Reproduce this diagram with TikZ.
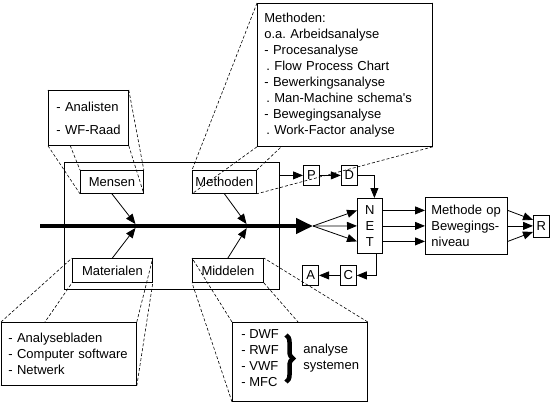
\documentclass[tikz,border=0pt]{standalone}
\usepackage{fontspec}
\setmainfont{Liberation Sans}
\frenchspacing
\usetikzlibrary{positioning,arrows.meta,decorations.pathreplacing,backgrounds}

\begin{document}
\begin{tikzpicture}[
    x=1pt, y=-1pt,
    every node/.style={font=\fontsize{13}{16}\selectfont, inner sep=0pt, line width=.8pt},
    item/.style={draw, anchor=north west},
    note/.style={item, fill=white, align=left, inner xsep=7pt},
    letter/.style={item, minimum width=16pt, minimum height=20pt},
    callout/.style={dash pattern=on 3pt off 2pt, line width=.6pt},
    flow/.style={-{Triangle[length=10pt,width=8pt]}, line width=.8pt},
    spine/.style={-{Triangle[length=17pt,width=15pt]}, line width=4pt},
    brace/.style={decorate, decoration={brace, amplitude=7pt}, line width=4.5pt},
    ]
  \useasboundingbox (0,0) rectangle (560,405);
  % visgraat
  \node [item, minimum width=215pt, minimum height=127pt] (frame) at (64,162) {};
  \node [item, minimum width=63pt, minimum height=23pt] (mensen) at (80,170) {Mensen};
  \node [item, minimum width=64pt, minimum height=23pt] (methoden) at (192,170) {Methoden};
  \node [item, minimum width=80pt, minimum height=24pt] (materialen) at (72,258) {Materialen};
  \node [item, minimum width=71pt, minimum height=24pt] (middelen) at (192,258) {Middelen};
  \coordinate (tail) at (40,226);
  \coordinate (head) at (313,226);
  \coordinate (bone1) at (137,226);
  \coordinate (bone2) at (248,226);

  % toelichtingen
  \node [note, inner xsep=8pt, text width=64pt, minimum height=55pt] (wie) at (48,90) {\mbox{- Analisten}\\[7pt]\mbox{- WF-Raad}};
  \node [note, text width=161pt, minimum height=143pt] (hoe) at (257,3) {Methoden:\\o.a. Arbeidsanalyse\\- Procesanalyse\\\hspace*{2pt}. Flow Process Chart\\- Bewerkingsanalyse\\\hspace*{2pt}. Man-Machine schema\textquotesingle s\\- Bewegingsanalyse\\\hspace*{2pt}. Work-Factor analyse};
  \node [note, text width=121pt, minimum height=63pt] (wat) at (1,322) {- Analysebladen\\- Computer software\\- Netwerk};
  \node [note, minimum width=135pt, minimum height=79pt] (waarmee) at (232,322) {};
  \node [anchor=west, align=left] (systemen) at (241,358) {- DWF\\- RWF\\- VWF\\- MFC};
  \draw [brace] (286,335) -- (286,382);
  \node [anchor=west, align=left] (analyse) at (303,358) {analyse\\systemen};

  % rechterkant
  \node [letter] (p) at (303,165) {P};
  \node [letter, right=21pt of p] (d) {D};
  \node [item, minimum width=25pt, minimum height=55pt, align=center] (net) at (357,198) {N\\E\\T};
  \node [item, align=left, inner xsep=6pt, text width=70pt, minimum height=57pt] (methode) at (425,197) {Methode op\\Bewegings-\\niveau};
  \node [letter, minimum height=22pt] (r) at (533,214.5) {R};
  \node [letter] (c) at (340,265) {C};
  \node [letter, left=21pt of c] (a) {A};

  \begin{scope}[on background layer]
    \draw[callout] (wie.north west) -- (mensen.north west);
    \draw[callout] (wie.north east) -- (mensen.north east);
    \draw[callout] (wie.south west) -- (mensen.south west);
    \draw[callout] (wie.south east) -- (mensen.south east);
    \draw[callout] (hoe.north west) -- (methoden.north west);
    \draw[callout] (hoe.north east) -- (methoden.north east);
    \draw[callout] (hoe.south west) -- (methoden.south west);
    \draw[callout] (hoe.south east) -- (methoden.south east);
    \draw[callout] (wat.north west) -- (materialen.north west);
    \draw[callout] (wat.north east) -- (materialen.north east);
    \draw[callout] (wat.south west) -- (materialen.south west);
    \draw[callout] (wat.south east) -- (materialen.south east);
    \draw[callout] (waarmee.north west) -- (middelen.north west);
    \draw[callout] (waarmee.north east) -- (middelen.north east);
    \draw[callout] (waarmee.south west) -- (middelen.south west);
    \draw[callout] (waarmee.south east) -- (middelen.south east);
  \end{scope}

  \draw[spine] (tail) -- (head);
  \draw[flow, shorten >=2.5pt] (mensen.south) -- (bone1);
  \draw[flow, shorten >=2.5pt] (materialen.north) -- (bone1);
  \draw[flow, shorten >=2.5pt] (methoden.south) -- (bone2);
  \draw[flow, shorten >=2.5pt] (middelen.north) -- (bone2);

  \draw[flow] (frame.east |- p.west) -- (p.west);
  \draw[flow] (p.east) -- (d.west);
  \draw[flow] (d.east) -| ([xshift=4.5pt]net.north);
  \draw[flow] (head) -- ([yshift=15.5pt]net.west);
  \draw[flow] (head) -- (net.west);
  \draw[flow] (head) -- ([yshift=-15.5pt]net.west);
  \draw[flow] ([yshift=15.5pt]net.east) -- ([yshift=15.5pt]methode.west);
  \draw[flow] (net.east) -- (methode.west);
  \draw[flow] ([yshift=-15.5pt]net.east) -- ([yshift=-15.5pt]methode.west);
  \draw[flow] ([yshift=15.5pt]methode.east) -- ([yshift=6pt]r.west);
  \draw[flow] (methode.east) -- (r.west);
  \draw[flow] ([yshift=-15.5pt]methode.east) -- ([yshift=-6pt]r.west);
  \draw[flow] ([xshift=6pt]net.south) |- (c.east);
  \draw[flow] (c.west) -- (a.east);
\end{tikzpicture}
\end{document}
